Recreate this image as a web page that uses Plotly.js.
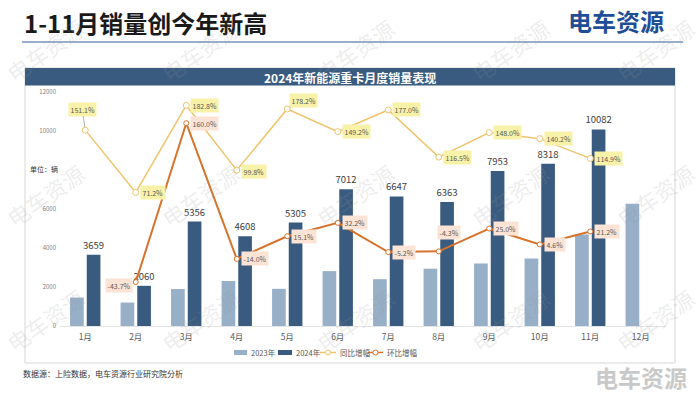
<!DOCTYPE html>
<html>
<head>
<meta charset="utf-8">
<script src="https://cdn.plot.ly/plotly-3.0.1.min.js"></script>
<style>html,body{margin:0;padding:0;background:#fff;}#chart{width:700px;height:393px;}</style>
</head>
<body>
<div id="chart"></div>
<script>
// ---- data ----
const months = ['1月','2月','3月','4月','5月','6月','7月','8月','9月','10月','11月','12月'];
const sales2023 = [1457, 1203, 1894, 2306, 1907, 2814, 2400, 2939, 3207, 3463, 4692, 6270];
const sales2024 = [3659, 2060, 5356, 4608, 5305, 7012, 6647, 6363, 7953, 8318, 10082, null];
const yoyPct = [151.1, 71.2, 182.8, 99.8, 178.2, 149.2, 177.0, 116.5, 148.0, 140.2, 114.9, null];
const momPct = [null, -43.7, 160.0, -14.0, 15.1, 32.2, -5.2, -4.3, 25.0, 4.6, 21.2, null];
const yTicks = [0, 2000, 4000, 6000, 10000, 12000];
const seriesNames = ['2023年', '2024年', '同比增幅', '环比增幅'];

// ---- styles ----
const FONT = '"Noto Sans CJK SC", "Noto Sans", sans-serif';
const C23 = '#97afc7', C24 = '#3a5b80', CYOY = '#efc46c', CMOM = '#d8732c';
const ML = 60, MR = 34, MT = 92, MB = 67, W = 700, H = 393;
const PW = W - ML - MR, PH = H - MT - MB;
const PX = p => (p - ML) / PW;
const PY = p => (H - MB - p) / PH;

const traces = [
  {type:'bar', name:seriesNames[0], x:months, y:sales2023, marker:{color:C23}, hoverinfo:'none'},
  {type:'bar', name:seriesNames[1], x:months, y:sales2024, marker:{color:C24},
   text:sales2024.map(v => v == null ? '' : String(v)), textposition:'outside', constraintext:'none',
   cliponaxis:false, textfont:{family:FONT, size:9.5, color:'#404040'}, hoverinfo:'none'},
  {type:'scatter', mode:'lines+markers', name:seriesNames[2], x:months, y:yoyPct, yaxis:'y2',
   line:{color:CYOY, width:1.5}, marker:{size:6, color:'#fff', line:{color:CYOY, width:1}}, cliponaxis:false, hoverinfo:'none'},
  {type:'scatter', mode:'lines+markers', name:seriesNames[3], x:months, y:momPct, yaxis:'y2',
   line:{color:CMOM, width:2}, marker:{size:5, color:'#fff', line:{color:CMOM, width:1}}, cliponaxis:false, hoverinfo:'none'}
];

const annotations = [];
const shapes = [];

// line labels
const yoyOpts = {
  0:{arrow:true, ax:-3, ay:-21},
  4:{arrow:true, ax:16, ay:-9}
};
yoyPct.forEach((v, i) => {
  if (v == null) return;
  const o = yoyOpts[i];
  const base = {x:months[i], y:v, xref:'x', yref:'y2', text:v.toFixed(1) + '%',
    font:{family:FONT, size:7, color:'#595959'}, bgcolor:'#f8f1a8', borderpad:1.5};
  if (o) {
    Object.assign(base, {showarrow:true, ax:o.ax, ay:o.ay, arrowhead:0, arrowwidth:0.8, arrowcolor:'#a0a0a0', standoff:3});
  } else {
    Object.assign(base, {showarrow:false, xanchor:'left', yanchor:'middle', xshift:4, yshift:(i === 3 ? -1.5 : 0)});
  }
  annotations.push(base);
});
const momOpts = {
  1:{xanchor:'right', xshift:-3, yshift:-3},
  7:{xanchor:'center', xshift:10, yshift:19}
};
momPct.forEach((v, i) => {
  if (v == null) return;
  const o = momOpts[i] || {xanchor:'left', xshift:4, yshift:0};
  annotations.push({x:months[i], y:v, xref:'x', yref:'y2', text:v.toFixed(1) + '%', showarrow:false,
    xanchor:o.xanchor, yanchor:'middle', xshift:o.xshift, yshift:o.yshift,
    font:{family:FONT, size:7, color:'#595959'}, bgcolor:'#fbe4d5', borderpad:1.5});
});

// page furniture
shapes.push({type:'line', xref:'paper', yref:'paper', x0:PX(22), x1:PX(683), y0:PY(42), y1:PY(42), line:{color:'#7894bb', width:1.5}});
shapes.push({type:'rect', xref:'paper', yref:'paper', x0:PX(25), x1:PX(675), y0:PY(68), y1:PY(363), line:{color:'#d6d6d6', width:1}, fillcolor:'rgba(0,0,0,0)', layer:'below'});
shapes.push({type:'rect', xref:'paper', yref:'paper', x0:PX(25), x1:PX(675), y0:PY(68), y1:PY(85.5), line:{width:0}, fillcolor:C24});

annotations.push({xref:'paper', yref:'paper', x:PX(22), y:PY(23), xanchor:'left', yanchor:'middle', showarrow:false,
  text:'<b>1-11月销量创今年新高</b>', font:{family:FONT, size:24, color:'#1a1a1a'}});
annotations.push({xref:'paper', yref:'paper', x:PX(616), y:PY(21), xanchor:'center', yanchor:'middle', showarrow:false,
  text:'<b>电车资源</b>', font:{family:FONT, size:24, color:'#1f4e96'}});
annotations.push({xref:'paper', yref:'paper', x:PX(350), y:PY(77), xanchor:'center', yanchor:'middle', showarrow:false,
  text:'<b>2024年新能源重卡月度销量表现</b>', font:{family:FONT, size:12, color:'#ffffff'}});
annotations.push({xref:'paper', yref:'paper', x:PX(28), y:PY(169), xanchor:'left', yanchor:'middle', showarrow:false,
  text:'单位：辆', font:{family:FONT, size:7, color:'#333333'}});
annotations.push({xref:'paper', yref:'paper', x:PX(21), y:PY(373), xanchor:'left', yanchor:'middle', showarrow:false,
  text:'数据源：上险数据，电车资源行业研究院分析', font:{family:FONT, size:8, color:'#333333'}});
annotations.push({xref:'paper', yref:'paper', x:PX(641), y:PY(377), xanchor:'center', yanchor:'middle', showarrow:false,
  text:'<b>电车资源</b>', font:{family:FONT, size:23, color:'#c9c9c9'}});

// manual legend
const LY = 352.5;
shapes.push({type:'rect', xref:'paper', yref:'paper', x0:PX(234), x1:PX(247), y0:PY(LY-2.5), y1:PY(LY+2.5), line:{width:0}, fillcolor:C23});
shapes.push({type:'rect', xref:'paper', yref:'paper', x0:PX(278), x1:PX(292), y0:PY(LY-2.5), y1:PY(LY+2.5), line:{width:0}, fillcolor:C24});
shapes.push({type:'line', xref:'paper', yref:'paper', x0:PX(320), x1:PX(336), y0:PY(LY), y1:PY(LY), line:{color:CYOY, width:1.5}});
shapes.push({type:'circle', xref:'paper', yref:'paper', x0:PX(325.5), x1:PX(330.5), y0:PY(LY-2.5), y1:PY(LY+2.5), line:{color:CYOY, width:1}, fillcolor:'#fff'});
shapes.push({type:'line', xref:'paper', yref:'paper', x0:PX(368), x1:PX(383), y0:PY(LY), y1:PY(LY), line:{color:CMOM, width:1.5}});
shapes.push({type:'circle', xref:'paper', yref:'paper', x0:PX(373), x1:PX(378), y0:PY(LY-2.5), y1:PY(LY+2.5), line:{color:CMOM, width:1}, fillcolor:'#fff'});
[[249, seriesNames[0]], [294, seriesNames[1]], [338, seriesNames[2]], [385, seriesNames[3]]].forEach(([x, t]) => {
  annotations.push({xref:'paper', yref:'paper', x:PX(x), y:PY(LY), xanchor:'left', yanchor:'middle', showarrow:false,
    text:t, font:{family:FONT, size:7.5, color:'#595959'}});
});

// watermarks
[50, 195, 320].forEach(wy => {
  [45, 200, 355, 510, 655].forEach(wx => {
    annotations.push({xref:'paper', yref:'paper', x:PX(wx), y:PY(wy), xanchor:'center', yanchor:'middle', showarrow:false,
      text:'电车资源', textangle:-35, font:{family:FONT, size:22, color:'rgba(150,150,150,0.18)'}});
  });
});

const layout = {
  width:W, height:H, margin:{l:ML, r:MR, t:MT, b:MB, pad:0},
  paper_bgcolor:'#ffffff', plot_bgcolor:'#ffffff',
  showlegend:false, barmode:'group', bargap:0.34, bargroupgap:0.18,
  font:{family:FONT},
  xaxis:{type:'category', categoryorder:'array', categoryarray:months, range:[-0.5, 11.5],
    showgrid:false, zeroline:false, showline:true, linecolor:'#e4e4e4', linewidth:1, ticks:'',
    tickfont:{family:FONT, size:8.5, color:'#595959'}, ticklabelstandoff:3, fixedrange:true},
  yaxis:{range:[0, 12000], tickvals:yTicks, ticktext:yTicks.map(String), showgrid:false, zeroline:false,
    showline:false, ticks:'', tickfont:{family:FONT, size:6, color:'#808080'}, ticklabelstandoff:3, fixedrange:true},
  yaxis2:{range:[-100, 200], overlaying:'y', side:'right', visible:false, fixedrange:true},
  shapes:shapes, annotations:annotations
};

Plotly.newPlot('chart', traces, layout, {staticPlot:true, displayModeBar:false});
</script>
</body>
</html>
